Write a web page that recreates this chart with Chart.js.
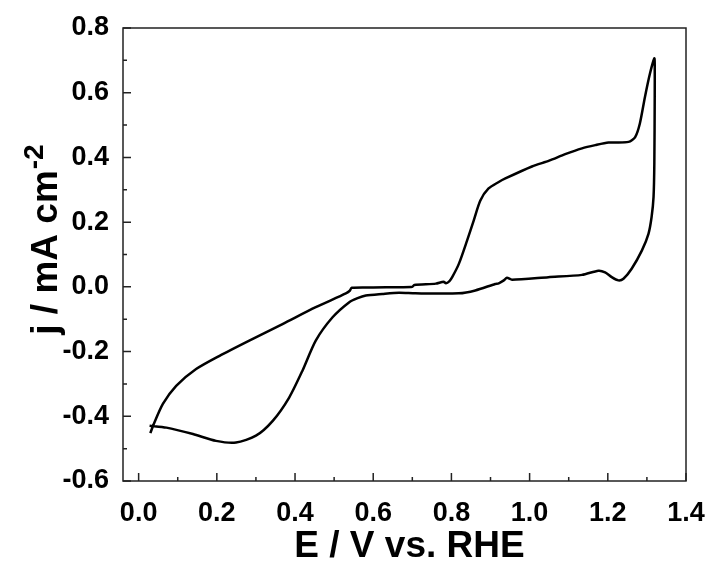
<!DOCTYPE html>
<html>
<head>
<meta charset="utf-8">
<script src="https://cdn.jsdelivr.net/npm/chart.js@4.4.1/dist/chart.umd.min.js"></script>
<style>
  html, body { margin: 0; padding: 0; background: #fff; }
  canvas { display: block; }
</style>
</head>
<body>
<canvas id="cv" width="713" height="562"></canvas>
<script>
// cyclic voltammogram: forward sweep then return sweep
const potentialV = [
    0.030, 0.037, 0.062, 0.096, 0.147, 0.207, 0.283, 0.368, 0.453, 0.530,
    0.540, 0.545, 0.600, 0.666, 0.700, 0.705, 0.760, 0.780, 0.786, 0.795,
    0.802, 0.819, 0.840, 0.857, 0.874, 0.895, 0.921, 0.938, 1.006, 1.050,
    1.091, 1.134, 1.168, 1.202, 1.253, 1.270, 1.282, 1.295, 1.308, 1.319,
    1.320, 1.320, 1.319, 1.317, 1.312, 1.304, 1.287, 1.261, 1.240, 1.227,
    1.210, 1.193, 1.176, 1.134, 1.048, 0.955, 0.942, 0.934, 0.921, 0.912,
    0.861, 0.819, 0.708, 0.666, 0.623, 0.581, 0.560, 0.538, 0.496, 0.453,
    0.419, 0.385, 0.343, 0.300, 0.249, 0.198, 0.139, 0.071, 0.028
];
const currentDensity = [
    -0.452, -0.429, -0.362, -0.306, -0.254, -0.213, -0.166, -0.115, -0.063, -0.020,
    -0.012, -0.003, -0.002, -0.001, 0.000, 0.006, 0.010, 0.016, 0.011, 0.018,
    0.030, 0.071, 0.143, 0.205, 0.267, 0.304, 0.324, 0.335, 0.372, 0.390,
    0.410, 0.428, 0.438, 0.446, 0.448, 0.463, 0.505, 0.587, 0.660, 0.706,
    0.690, 0.587, 0.381, 0.278, 0.216, 0.164, 0.112, 0.056, 0.025, 0.020,
    0.030, 0.045, 0.050, 0.037, 0.030, 0.022, 0.028, 0.020, 0.011, 0.009,
    -0.011, -0.020, -0.020, -0.018, -0.022, -0.027, -0.035, -0.048, -0.094, -0.166,
    -0.259, -0.342, -0.414, -0.460, -0.481, -0.476, -0.455, -0.435, -0.429
];
const xTicks = [0.0, 0.2, 0.4, 0.6, 0.8, 1.0, 1.2, 1.4];
const yTicks = [-0.6, -0.4, -0.2, 0.0, 0.2, 0.4, 0.6, 0.8];
const xTitle = 'E / V vs. RHE';
const yTitle = 'j / mA cm';
const yTitleSup = '-2';

const FONT = "'Liberation Sans', Arial, sans-serif";
const points = potentialV.map((v, i) => ({ x: v, y: currentDensity[i] }));

// frame, inward major/minor ticks and the axis titles
const framePlugin = {
    id: 'frame',
    afterDraw(chart) {
        const ctx = chart.ctx;
        const a = chart.chartArea;
        const sx = chart.scales.x, sy = chart.scales.y;
        ctx.save();
        ctx.strokeStyle = '#222';
        ctx.lineWidth = 1.5;
        ctx.strokeRect(a.left, a.top, a.right - a.left, a.bottom - a.top);

        ctx.beginPath();
        for (let i = 0; i < xTicks.length; i++) {
            const px = sx.getPixelForValue(xTicks[i]);
            ctx.moveTo(px, a.bottom); ctx.lineTo(px, a.bottom - 8);
            if (i < xTicks.length - 1) {
                const mx = sx.getPixelForValue((xTicks[i] + xTicks[i + 1]) / 2);
                ctx.moveTo(mx, a.bottom); ctx.lineTo(mx, a.bottom - 4);
            }
        }
        for (let i = 0; i < yTicks.length; i++) {
            const py = sy.getPixelForValue(yTicks[i]);
            ctx.moveTo(a.left, py); ctx.lineTo(a.left + 8, py);
            if (i < yTicks.length - 1) {
                const my = sy.getPixelForValue((yTicks[i] + yTicks[i + 1]) / 2);
                ctx.moveTo(a.left, my); ctx.lineTo(a.left + 4, my);
            }
        }
        ctx.stroke();

        ctx.fillStyle = '#000';
        ctx.font = 'bold 37px ' + FONT;
        ctx.textAlign = 'center';
        ctx.textBaseline = 'alphabetic';
        ctx.fillText(xTitle, (a.left + a.right) / 2 + 5, 557);

        ctx.translate(57, 240);
        ctx.rotate(-Math.PI / 2);
        ctx.font = 'bold 37px ' + FONT;
        const w1 = ctx.measureText(yTitle).width;
        ctx.font = 'bold 28px ' + FONT;
        const w2 = ctx.measureText(yTitleSup).width;
        const start = -(w1 + w2) / 2;
        ctx.textAlign = 'left';
        ctx.font = 'bold 37px ' + FONT;
        ctx.fillText(yTitle, start, 0);
        ctx.font = 'bold 28px ' + FONT;
        ctx.fillText(yTitleSup, start + w1 + 1, -14);
        ctx.restore();
    }
};

new Chart(document.getElementById('cv'), {
    type: 'scatter',
    data: {
        datasets: [{
            data: points,
            showLine: true,
            borderColor: '#000',
            borderWidth: 2.5,
            pointRadius: 0,
            tension: 0.25,
            fill: false
        }]
    },
    options: {
        responsive: false,
        animation: false,
        devicePixelRatio: 1,
        layout: { padding: { top: 28, right: 27, left: 0, bottom: 0 } },
        plugins: { legend: { display: false }, tooltip: { enabled: false } },
        scales: {
            x: {
                type: 'linear',
                min: -0.04,
                max: 1.4,
                grid: { display: false },
                border: { display: false },
                afterFit: (s) => { s.height = 81; },
                afterBuildTicks: (s) => { s.ticks = xTicks.map(v => ({ value: v })); },
                ticks: {
                    padding: 8,
                    color: '#000',
                    font: { family: FONT, size: 27, weight: 'bold' },
                    maxRotation: 0,
                    callback: (v) => Number(v).toFixed(1)
                }
            },
            y: {
                type: 'linear',
                min: -0.6,
                max: 0.8,
                grid: { display: false },
                border: { display: false },
                afterFit: (s) => { s.width = 123; },
                afterBuildTicks: (s) => { s.ticks = yTicks.map(v => ({ value: v })); },
                ticks: {
                    padding: 6,
                    color: '#000',
                    font: { family: FONT, size: 27, weight: 'bold' },
                    callback: (v) => Number(v).toFixed(1)
                }
            }
        }
    },
    plugins: [framePlugin]
});
</script>
</body>
</html>
